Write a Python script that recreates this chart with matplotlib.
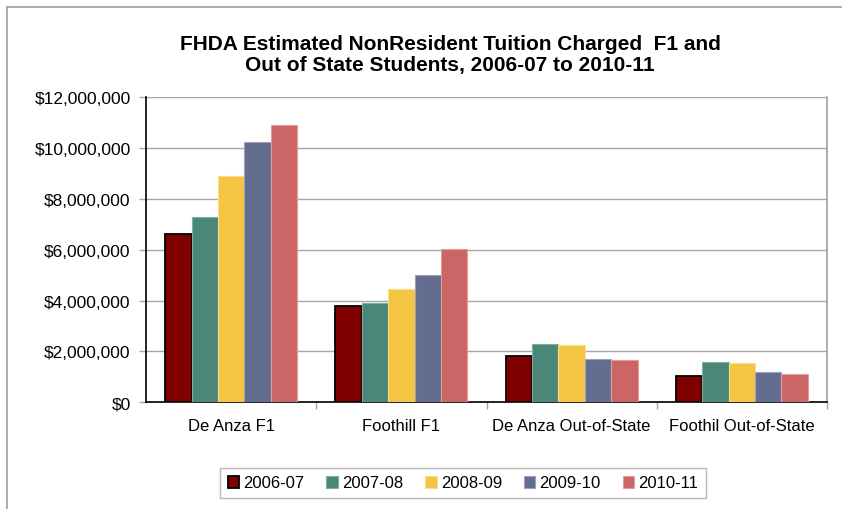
import matplotlib.pyplot as plt
import numpy as np
from matplotlib.ticker import FuncFormatter, FixedLocator
from matplotlib.lines import Line2D

plt.rcParams['font.family'] = ['Liberation Sans', 'DejaVu Sans']

categories = ["De Anza F1", "Foothill F1", "De Anza Out-of-State", "Foothil Out-of-State"]
years = ["2006-07", "2007-08", "2008-09", "2009-10", "2010-11"]

v_2006 = [6600000, 3780000, 1830000, 1040000]
v_2007 = [7280000, 3920000, 2310000, 1570000]
v_2008 = [8900000, 4440000, 2260000, 1550000]
v_2009 = [10240000, 5020000, 1720000, 1180000]
v_2010 = [10910000, 6040000, 1660000, 1110000]
series = [v_2006, v_2007, v_2008, v_2009, v_2010]

colors = ["#800000", "#4A8779", "#F4C542", "#636D8F", "#CC6666"]
edges = ["#000000", "#7FAFA4", "#F9DC8C", "#9BA2BC", "#E59C9C"]

fig = plt.figure(figsize=(8.42, 5.10), dpi=100)
ax = fig.add_axes([146 / 842, 1 - 403.3 / 510, (827 - 146) / 842, (403.3 - 98) / 510])

# chart border (left and top only visible)
fig.add_artist(Line2D([7 / 842, 7 / 842], [0, 1 - 8 / 510], color="#A0A0A0", lw=1.2, transform=fig.transFigure))
fig.add_artist(Line2D([7 / 842, 1], [1 - 8 / 510, 1 - 8 / 510], color="#A0A0A0", lw=1.2, transform=fig.transFigure))

x = np.arange(len(categories))
w = 0.155
for i, vals in enumerate(series):
    lw = 1.3 if i == 0 else 0.8
    ax.bar(x + (i - 2) * w, vals, w, color=colors[i], edgecolor=edges[i], linewidth=lw,
           label=years[i], zorder=3)

ax.set_xlim(-0.5, 3.5)
ax.set_ylim(0, 12000000)
ax.set_yticks(np.arange(0, 12000001, 2000000))
ax.yaxis.set_major_formatter(FuncFormatter(lambda v, p: "${:,.0f}".format(v)))
ax.grid(axis="y", color="#A6A6A6", linewidth=1, zorder=0)

ax.set_xticks(x)
ax.set_xticklabels(categories)
ax.tick_params(axis="x", which="major", length=0, pad=11, labelsize=12)
ax.xaxis.set_minor_locator(FixedLocator([0.5, 1.5, 2.5, 3.5]))
ax.tick_params(axis="x", which="minor", length=5, color="#A6A6A6", width=1)
ax.tick_params(axis="y", length=5, color="#A6A6A6", width=1, pad=6, labelsize=12.5)

for s in ["left", "bottom"]:
    ax.spines[s].set_color("black")
    ax.spines[s].set_linewidth(1.2)
ax.spines["top"].set_visible(False)
ax.spines["right"].set_color("#A0A0A0")
ax.spines["right"].set_linewidth(1.2)

fig.text(450 / 842, 1 - 55 / 510, "FHDA Estimated NonResident Tuition Charged  F1 and\nOut of State Students, 2006-07 to 2010-11",
         ha="center", va="center", fontsize=15, fontweight="bold", linespacing=1.2)

leg = fig.legend(loc="center", bbox_to_anchor=(463 / 842, 1 - 484 / 510), ncol=5, fontsize=12,
                 frameon=True, fancybox=False, edgecolor="#A6A6A6", handlelength=0.7, handleheight=0.7,
                 handletextpad=0.25, columnspacing=1.3, borderpad=0.45)
leg.get_frame().set_linewidth(1)

fig.savefig("out.png", dpi=100)
